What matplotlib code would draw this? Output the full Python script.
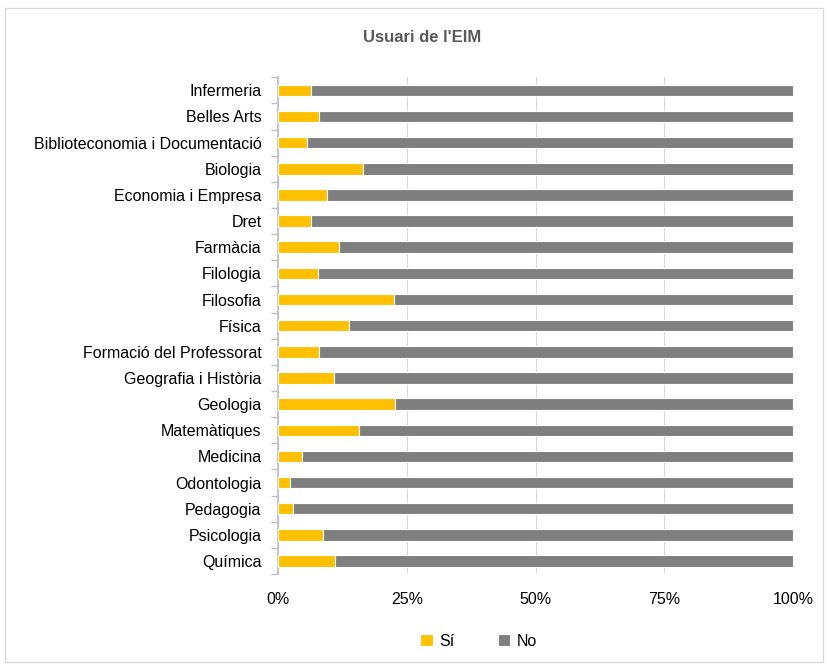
import matplotlib.pyplot as plt
import numpy as np
from matplotlib.patches import Rectangle
from matplotlib.ticker import PercentFormatter

plt.rcParams['font.family'] = ['Liberation Sans', 'DejaVu Sans']

# data (top to bottom as shown)
faculties = [
    "Infermeria", "Belles Arts", "Biblioteconomia i Documentació", "Biologia",
    "Economia i Empresa", "Dret", "Farmàcia", "Filologia", "Filosofia", "Física",
    "Formació del Professorat", "Geografia i Història", "Geologia", "Matemàtiques",
    "Medicina", "Odontologia", "Pedagogia", "Psicologia", "Química",
]
si_pct = [6.3, 7.9, 5.5, 16.5, 9.4, 6.3, 11.9, 7.8, 22.5, 13.7,
          8.0, 10.9, 22.7, 15.7, 4.7, 2.3, 2.9, 8.7, 11.1]
no_pct = [100 - v for v in si_pct]

yellow = "#FFC000"
gray = "#7F7F7F"

fig = plt.figure(figsize=(8.28, 6.66), dpi=100)
ax = fig.add_axes([0.336, 0.138, 0.622, 0.746])

y = np.arange(len(faculties))
ax.barh(y, si_pct, height=0.44, color=yellow, edgecolor="white", linewidth=0.8, label="Sí", zorder=3)
ax.barh(y, no_pct, left=si_pct, height=0.44, color=gray, edgecolor="white", linewidth=0.8, label="No", zorder=3)

ax.set_ylim(len(faculties) - 0.5, -0.5)
ax.set_xlim(0, 100)
ax.set_yticks(y)
ax.set_yticklabels(faculties, fontsize=11.5, color="#000000")
ax.set_yticks(np.arange(-0.5, len(faculties), 1), minor=True)
ax.tick_params(axis="y", which="major", length=0, pad=12)
ax.tick_params(axis="y", which="minor", length=5, color="#BFBFBF", width=1, direction="out")

ax.set_xticks([0, 25, 50, 75, 100])
ax.xaxis.set_major_formatter(PercentFormatter(decimals=0))
ax.tick_params(axis="x", length=0, labelsize=11.5, pad=13, labelcolor="#000000")
ax.grid(axis="x", color="#D9D9D9", linewidth=0.8, zorder=0)

for side in ["top", "right", "bottom"]:
    ax.spines[side].set_visible(False)
ax.spines["left"].set_color("#BFBFBF")
ax.spines["left"].set_linewidth(1.2)

fig.text(0.51, 0.943, "Usuari de l'EIM", ha="center", va="center",
         fontsize=12, fontweight="bold", color="#595959")

leg = fig.legend(loc="center", bbox_to_anchor=(0.578, 0.037), ncol=2, frameon=False,
                 fontsize=11.5, handlelength=0.8, handleheight=0.8, columnspacing=2.7,
                 handletextpad=0.4)

# chart border
fig.patches.append(Rectangle((0.006, 0.006), 0.988, 0.982, transform=fig.transFigure,
                             fill=False, edgecolor="#D9D9D9", linewidth=1))

fig.savefig("out.png", dpi=100)
